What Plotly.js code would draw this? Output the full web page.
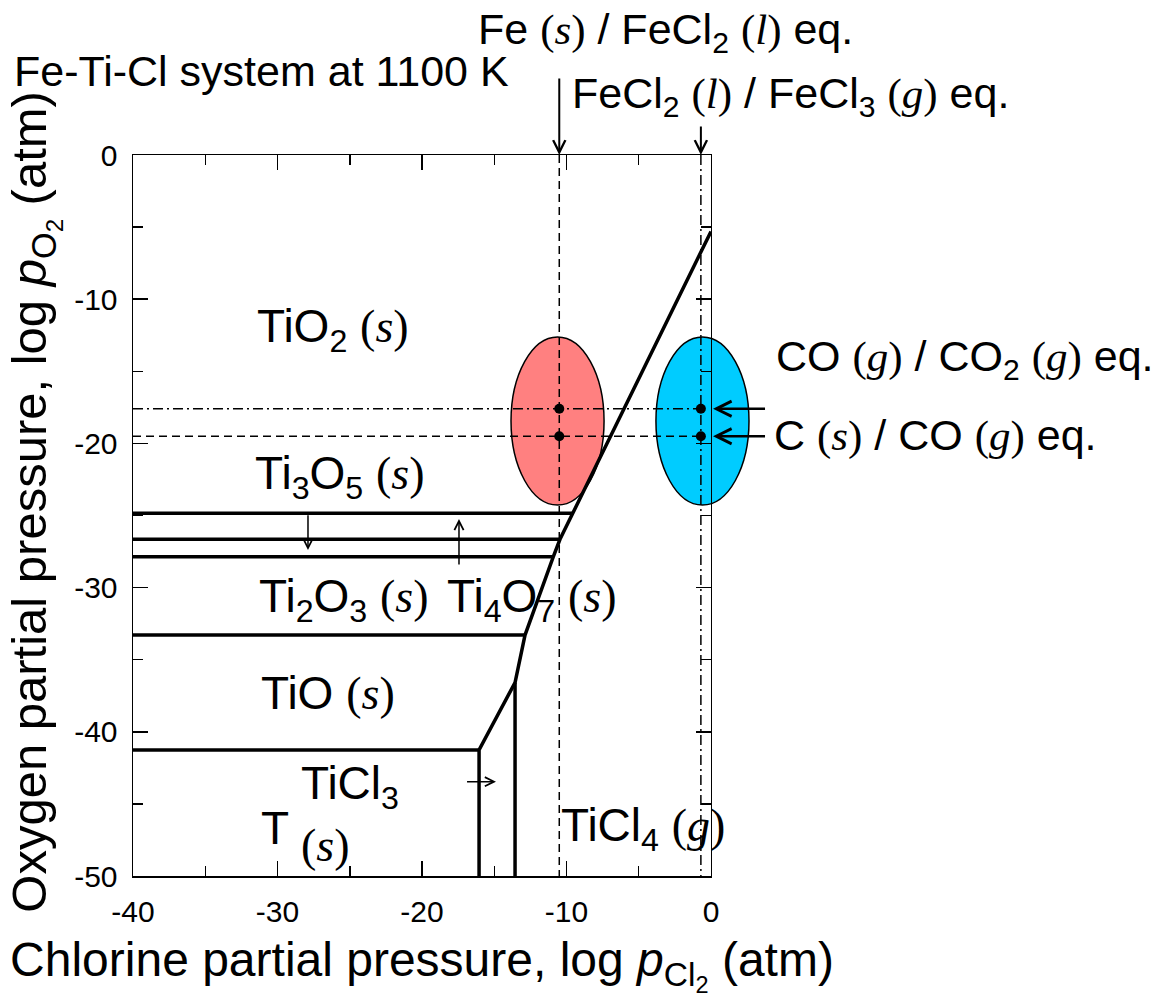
<!DOCTYPE html>
<html><head><meta charset="utf-8">
<script src="https://cdn.plot.ly/plotly-3.0.1.min.js"></script>
<style>html,body{margin:0;padding:0;background:#fff}</style>
</head><body>
<div id="chart" style="width:1168px;height:1000px"></div>
<script>
// ---- data (log p values, atm) ----
// main boundary TiOx / TiCl4, TiO / TiCl3, Ti / TiCl3
const boundaryX = [0, -9.53, -10.45, -10.91, -12.87, -13.56, -16.05, -16.05];
const boundaryY = [-5.3, -24.85, -26.65, -27.86, -33.29, -36.59, -41.26, -50];
// horizontal oxide/oxide boundaries (start at left edge, end on the main boundary)
const oxideBoundaryY = [-24.85, -26.65, -27.86, -33.29, -41.26];
const oxideBoundaryEndX = [-9.53, -10.45, -10.91, -12.87, -16.05];
// TiCl3 / TiCl4 boundary
const chlorideBoundaryX = [-13.56, -13.56];
const chlorideBoundaryY = [-36.59, -50];
// Fe(s)/FeCl2(l) and FeCl2(l)/FeCl3(g) equilibria (log pCl2)
const feEqX = [-10.5, -0.7];
// CO(g)/CO2(g) and C(s)/CO(g) equilibria (log pO2)
const carbonEqY = [-17.6, -19.5];
// highlighted fields (ellipses)
const fieldNames = ['Fe field', 'FeCl3 field'];
const fieldXmin = [-13.84, -3.81];
const fieldXmax = [-7.40, 2.63];
const fieldYmin = [-24.28, -24.28];
const fieldYmax = [-12.62, -12.62];
const fieldColors = ['#FF8080', '#00CCFF'];
// tick labels
const xTickVals = [-40, -30, -20, -10, 0];
const xTickText = ['-40', '-30', '-20', '-10', '0'];
const xMinorVals = [-35, -25, -15, -5];
const yTickVals = [-50, -40, -30, -20, -10, 0];
const yTickText = ['-50', '-40', '-30', '-20', '-10', '0'];
const yMinorVals = [-45, -35, -25, -15, -5];
const xDataMax = 3.53;

const SANS = 'Liberation Sans, Arial, Helvetica, sans-serif';
const SERIF = 'Liberation Serif';
const ph = s => '<span style="font-family:' + SERIF + '">(<i>' + s + '</i>)</span>';

// region labels
const regionText = ['TiO<sub>2</sub> ' + ph('s'), 'Ti<sub>3</sub>O<sub>5</sub> ' + ph('s'),
  'Ti<sub>2</sub>O<sub>3</sub> ' + ph('s'), 'Ti<sub>4</sub>O<sub>7</sub> ' + ph('s'),
  'TiO ' + ph('s'), 'TiCl<sub>3</sub>', 'T', ph('s'), 'TiCl<sub>4</sub> ' + ph('g')];
const regionX = [-31.56, -31.7, -31.45, -18.4, -31.3, -28.5, -31.3, -28.5, -10.53];
const regionY = [-12.1, -22.3, -30.8, -30.8, -37.3, -43.8, -46.7, -47.9, -46.7];

// ---- page geometry ----
const M = {l: 133, t: 155, b: 124};
const plotW = Math.round(14.45 * (xDataMax + 40));
M.r = 1168 - M.l - plotW;
const plotH = 1000 - M.t - M.b;
const paperX = px => (px - M.l) / plotW;
const paperY = py => (1000 - M.b - py) / plotH;

// ---- traces ----
const traces = [];
const black = '#000';
const onFrame = {xaxis: 'x2', yaxis: 'y', hoverinfo: 'skip'};
traces.push(Object.assign({x: boundaryX, y: boundaryY, mode: 'lines', line: {color: black, width: 3.5}}, onFrame));
const hx = [], hy = [];
oxideBoundaryY.forEach((yv, i) => { hx.push(-40, oxideBoundaryEndX[i], null); hy.push(yv, yv, null); });
traces.push(Object.assign({x: hx, y: hy, mode: 'lines', line: {color: black, width: 3.5}}, onFrame));
traces.push(Object.assign({x: chlorideBoundaryX, y: chlorideBoundaryY, mode: 'lines', line: {color: black, width: 3.5}}, onFrame));
const dashStyles = ['8px,5px', '10px,4px,2px,4px'];
feEqX.forEach((xv, i) => traces.push(Object.assign({x: [xv, xv], y: [0, -50], mode: 'lines', line: {color: black, width: 1.5, dash: dashStyles[i]}}, onFrame)));
const hDash = ['10px,4px,2px,4px', '8px,5px'];
carbonEqY.forEach((yv, i) => traces.push(Object.assign({x: [-40, feEqX[1]], y: [yv, yv], mode: 'lines', line: {color: black, width: 1.5, dash: hDash[i]}}, onFrame)));
const dx = [], dy = [];
feEqX.forEach(xv => carbonEqY.forEach(yv => { dx.push(xv); dy.push(yv); }));
traces.push({x: dx, y: dy, mode: 'markers', marker: {color: black, size: 10}, xaxis: 'x', yaxis: 'y', hoverinfo: 'skip'});

// ---- shapes ----
const shapes = fieldNames.map((n, i) => ({type: 'circle', xref: 'x', yref: 'y', layer: 'below',
  x0: fieldXmin[i], x1: fieldXmax[i], y0: fieldYmin[i], y1: fieldYmax[i],
  fillcolor: fieldColors[i], line: {color: black, width: 1.5}}));

// ---- annotations ----
const ann = [];
regionText.forEach((t, i) => ann.push({text: t, x: regionX[i], y: regionY[i], xref: 'x', yref: 'y',
  xanchor: 'left', yanchor: 'middle', showarrow: false, font: {family: SANS, size: 46, color: black}}));
const outside = [
  {text: 'Fe ' + ph('s') + ' / FeCl<sub>2</sub> ' + ph('l') + ' eq.', x: paperX(476), y: paperY(31.7)},
  {text: 'FeCl<sub>2</sub> ' + ph('l') + ' / FeCl<sub>3</sub> ' + ph('g') + ' eq.', x: paperX(570), y: paperY(96)},
  {text: 'CO ' + ph('g') + ' / CO<sub>2</sub> ' + ph('g') + ' eq.', x: paperX(774), y: paperY(358.7)},
  {text: 'C ' + ph('s') + ' / CO ' + ph('g') + ' eq.', x: paperX(772), y: paperY(435)}
];
outside.forEach(o => ann.push(Object.assign({xref: 'paper', yref: 'paper', xanchor: 'left', yanchor: 'middle',
  showarrow: false, font: {family: SANS, size: 43, color: black}}, o)));
// arrows
const arrowBase = {text: ' ', showarrow: true, arrowhead: 5, arrowsize: 1.2, arrowwidth: 1.5, arrowcolor: black, standoff: 0};
ann.push(Object.assign({}, arrowBase, {x: feEqX[0], y: 0, xref: 'x', yref: 'y', ax: 0, ay: -85, arrowwidth: 2}));
ann.push(Object.assign({}, arrowBase, {x: feEqX[1], y: 0, xref: 'x', yref: 'y', ax: 0, ay: -37, arrowwidth: 2}));
ann.push(Object.assign({}, arrowBase, {x: 0.14, y: carbonEqY[0], xref: 'x', yref: 'y', ax: 55, ay: 0, arrowwidth: 2.5}));
ann.push(Object.assign({}, arrowBase, {x: 0.14, y: carbonEqY[1], xref: 'x', yref: 'y', ax: 55, ay: 0, arrowwidth: 2.5}));
ann.push(Object.assign({}, arrowBase, {x: -27.89, y: -27.4, xref: 'x', yref: 'y', axref: 'x', ayref: 'y', ax: -27.89, ay: -24.4}));
ann.push(Object.assign({}, arrowBase, {x: -17.44, y: -25.24, xref: 'x', yref: 'y', axref: 'x', ayref: 'y', ax: -17.44, ay: -28.99}));
ann.push(Object.assign({}, arrowBase, {x: -14.88, y: -43.46, xref: 'x', yref: 'y', axref: 'x', ayref: 'y', ax: -17.09, ay: -43.46}));

const tickCommon = {ticks: 'inside', ticklen: 15, tickwidth: 1.5, tickcolor: black, showline: true, linecolor: black,
  linewidth: 1.5, mirror: 'ticks', showgrid: false, zeroline: false, tickfont: {family: SANS, size: 30, color: black}};

const layout = {
  width: 1168, height: 1000,
  margin: {l: M.l, r: M.r, t: M.t, b: M.b, pad: 0},
  paper_bgcolor: '#fff', plot_bgcolor: 'rgba(0,0,0,0)',
  showlegend: false,
  font: {family: SANS, color: black},
  title: {text: 'Fe-Ti-Cl system at 1100 K', xref: 'container', yref: 'container', x: 14 / 1168, xanchor: 'left',
    y: 1 - 71 / 1000, yanchor: 'middle', font: {family: SANS, size: 43, color: black}},
  xaxis: {domain: [0, 1], range: [-40, xDataMax], visible: false, anchor: 'y', fixedrange: true},
  xaxis2: Object.assign({}, tickCommon, {domain: [0, 40 / (xDataMax + 40)], range: [-40, 0], anchor: 'y',
    tickmode: 'array', tickvals: xTickVals, ticktext: xTickText, ticklabelstandoff: 8,
    minor: {ticks: 'inside', ticklen: 10, tickwidth: 1.5, tickcolor: black, tickmode: 'array', tickvals: xMinorVals},
    title: {text: 'Chlorine partial pressure, log <i>p</i><sub>Cl<sub>2</sub></sub> (atm)', font: {family: SANS, size: 48, color: black}, standoff: 16},
    fixedrange: true}),
  yaxis: Object.assign({}, tickCommon, {domain: [0, 1], range: [-50, 0], anchor: 'x2',
    tickmode: 'array', tickvals: yTickVals, ticktext: yTickText, ticklabelstandoff: 8,
    minor: {ticks: 'inside', ticklen: 10, tickwidth: 1.5, tickcolor: black, tickmode: 'array', tickvals: yMinorVals},
    title: {text: '&nbsp;&nbsp;Oxygen partial pressure, log <i>p</i><sub>O<sub>2</sub></sub> (atm)', font: {family: SANS, size: 49, color: black}, standoff: 12},
    fixedrange: true}),
  shapes: shapes,
  annotations: ann
};
Plotly.newPlot('chart', traces, layout, {staticPlot: true, displayModeBar: false});
</script>
</body></html>
